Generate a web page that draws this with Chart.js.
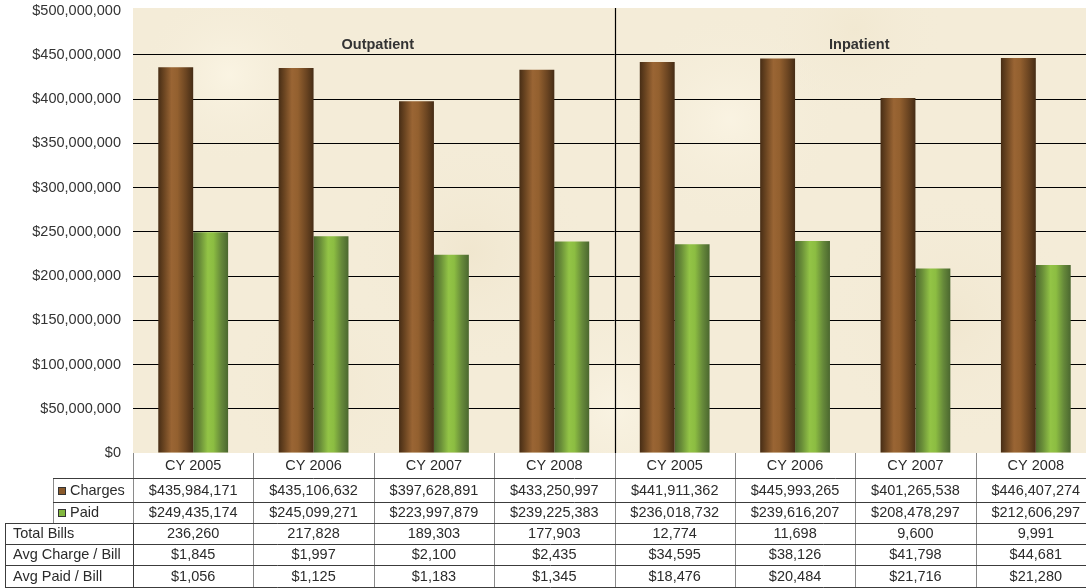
<!DOCTYPE html>
<html>
<head>
<meta charset="utf-8">
<script src="https://cdn.jsdelivr.net/npm/chart.js@4.4.1/dist/chart.umd.min.js"></script>
<style>
  html, body { margin: 0; padding: 0; background: #ffffff; overflow: hidden; }
  #wrap { position: relative; width: 1100px; height: 588px; }
</style>
</head>
<body>
<div id="wrap"><canvas id="c"></canvas></div>
<script>
// ---- data ----
const categories = ['CY 2005', 'CY 2006', 'CY 2007', 'CY 2008', 'CY 2005', 'CY 2006', 'CY 2007', 'CY 2008'];
const groupNames = ['Outpatient', 'Inpatient'];
const groupSizes = [4, 4];
const seriesNames = ['Charges', 'Paid'];
const charges = [435984171, 435106632, 397628891, 433250997, 441911362, 445993265, 401265538, 446407274];
const paid = [249435174, 245099271, 223997879, 239225383, 236018732, 239616207, 208478297, 212606297];
const totalBills = [236260, 217828, 189303, 177903, 12774, 11698, 9600, 9991];
const avgChargePerBill = [1845, 1997, 2100, 2435, 34595, 38126, 41798, 44681];
const avgPaidPerBill = [1056, 1125, 1183, 1345, 18476, 20484, 21716, 21280];
const extraRowLabels = ['Total Bills', 'Avg Charge / Bill', 'Avg Paid / Bill'];
const yMin = 0, yMax = 500000000, yStep = 50000000;

// ---- styling ----
const FONT = "'Liberation Sans', Arial, Helvetica, sans-serif";
const FS = 14.5;
const TEXT = '#2b2b2b';
const brownStops = [[0, '#472d15'], [0.18, '#6e4722'], [0.38, '#9a6534'], [0.55, '#93602f'], [0.8, '#6a4421'], [1, '#452c15']];
const greenStops = [[0, '#4b672d'], [0.2, '#6a8f39'], [0.42, '#93c446'], [0.58, '#8cbd42'], [0.8, '#66893a'], [1, '#4b672f']];
const legendColors = ['#8a5a2b', '#82b83f'];

const money = v => '$' + Math.round(v).toLocaleString('en-US');
const num = v => Math.round(v).toLocaleString('en-US');

const bgPlugin = {
  id: 'bg',
  beforeDraw(chart) {
    const { ctx, chartArea: a } = chart;
    ctx.save();
    ctx.fillStyle = '#f4ecd8';
    ctx.fillRect(a.left, 8, a.right - a.left, a.bottom - 8);
    const spots = [[0.1, 0.15, 90, 'rgba(255,250,235,0.55)'], [0.35, 0.55, 120, 'rgba(236,224,196,0.45)'],
                   [0.62, 0.25, 110, 'rgba(255,250,236,0.5)'], [0.85, 0.7, 130, 'rgba(237,225,198,0.45)'],
                   [0.2, 0.85, 100, 'rgba(240,229,203,0.45)'], [0.75, 0.05, 90, 'rgba(238,227,200,0.4)'],
                   [0.5, 0.9, 110, 'rgba(255,251,238,0.45)']];
    ctx.beginPath(); ctx.rect(a.left, 8, a.right - a.left, a.bottom - 8); ctx.clip();
    spots.forEach(([fx, fy, r, c]) => {
      const x = a.left + fx * (a.right - a.left), y = 8 + fy * (a.bottom - 8);
      const g = ctx.createRadialGradient(x, y, 0, x, y, r);
      g.addColorStop(0, c); g.addColorStop(1, 'rgba(244,236,216,0)');
      ctx.fillStyle = g; ctx.fillRect(x - r, y - r, 2 * r, 2 * r);
    });
    ctx.restore();
  },
  beforeDatasetsDraw(chart) {
    const ctx = chart.ctx;
    chart.data.datasets.forEach((ds, di) => {
      const stops = di === 0 ? brownStops : greenStops;
      chart.getDatasetMeta(di).data.forEach(el => {
        const p = el.getProps(['x', 'width'], true);
        const l = p.x - p.width / 2, r = p.x + p.width / 2;
        const g = ctx.createLinearGradient(l, 0, r, 0);
        stops.forEach(s => g.addColorStop(s[0], s[1]));
        el.options = Object.assign({}, el.options, { backgroundColor: g });
      });
    });
  },
  afterDraw(chart) {
    const { ctx, chartArea: a, scales } = chart;
    const xs = scales.x;
    const n = categories.length;
    const colW = (a.right - a.left) / n;
    const top = a.bottom;
    const rowY = [0, 25, 49, 70, 90.5, 112, 134].map(o => top + o);
    const px = v => Math.round(v) + 0.5;
    ctx.save();

    let start = 0;
    ctx.font = 'bold ' + FS + 'px ' + FONT;
    ctx.fillStyle = '#333';
    ctx.textAlign = 'center';
    ctx.textBaseline = 'middle';
    groupSizes.forEach((sz, gi) => {
      const x0 = xs.getPixelForValue(start), x1 = xs.getPixelForValue(start + sz - 1);
      ctx.fillText(groupNames[gi], (x0 + x1) / 2 + 4, 45);
      if (gi > 0) {
        const xd = (xs.getPixelForValue(start - 1) + x0) / 2;
        ctx.strokeStyle = '#000'; ctx.lineWidth = 1.2;
        ctx.beginPath(); ctx.moveTo(px(xd), 8); ctx.lineTo(px(xd), a.bottom); ctx.stroke();
      }
      start += sz;
    });

    ctx.lineWidth = 1;
    ctx.strokeStyle = '#8a8a8a';
    for (let i = 0; i <= n; i++) {
      const x = a.left + i * colW;
      ctx.beginPath(); ctx.moveTo(px(x), rowY[0]); ctx.lineTo(px(x), rowY[6]); ctx.stroke();
    }
    ctx.beginPath(); ctx.moveTo(px(53), rowY[1]); ctx.lineTo(px(53), rowY[3]); ctx.stroke();
    ctx.strokeStyle = '#3c3c3c';
    const hl = (y, x0) => { ctx.beginPath(); ctx.moveTo(x0, px(y)); ctx.lineTo(a.right, px(y)); ctx.stroke(); };
    hl(rowY[1], 53); hl(rowY[2], 53);
    hl(rowY[3], 5); hl(rowY[4], 5); hl(rowY[5], 5); hl(rowY[6], 5);
    ctx.beginPath(); ctx.moveTo(px(5), rowY[3]); ctx.lineTo(px(5), rowY[6]); ctx.stroke();
    ctx.beginPath(); ctx.moveTo(px(a.left), rowY[3]); ctx.lineTo(px(a.left), rowY[6]); ctx.stroke();

    ctx.font = FS + 'px ' + FONT;
    ctx.fillStyle = TEXT;
    ctx.textBaseline = 'middle';
    ctx.textAlign = 'center';
    const rows = [
      categories,
      charges.map(money),
      paid.map(money),
      totalBills.map(num),
      avgChargePerBill.map(money),
      avgPaidPerBill.map(money)
    ];
    rows.forEach((vals, r) => {
      const yc = (rowY[r] + rowY[r + 1]) / 2 + 0.5;
      vals.forEach((t, i) => ctx.fillText(t, xs.getPixelForValue(i), yc));
    });
    ctx.textAlign = 'left';
    seriesNames.forEach((s, k) => {
      const yc = (rowY[1 + k] + rowY[2 + k]) / 2 + 0.5;
      ctx.fillStyle = legendColors[k];
      ctx.fillRect(58, Math.round(yc) - 4, 8, 8);
      ctx.strokeStyle = '#333';
      ctx.strokeRect(58.5, Math.round(yc) - 3.5, 7, 7);
      ctx.fillStyle = TEXT;
      ctx.fillText(s, 70, yc);
    });
    extraRowLabels.forEach((s, k) => {
      const yc = (rowY[3 + k] + rowY[4 + k]) / 2 + 0.5;
      ctx.fillText(s, 13, yc);
    });
    ctx.restore();
  }
};

new Chart(document.getElementById('c'), {
  type: 'bar',
  data: {
    labels: categories,
    datasets: [
      { label: seriesNames[0], data: charges, backgroundColor: '#8a5a2b', borderWidth: 0,
        categoryPercentage: 0.58, barPercentage: 1.0 },
      { label: seriesNames[1], data: paid, backgroundColor: '#82b83f', borderWidth: 0,
        categoryPercentage: 0.58, barPercentage: 1.0 }
    ]
  },
  options: {
    responsive: true,
    maintainAspectRatio: false,
    animation: false,
    events: [],
    layout: { padding: { top: 10.7, right: 4, bottom: 135, left: 0 } },
    plugins: { legend: { display: false }, tooltip: { enabled: false }, title: { display: false } },
    scales: {
      x: { display: false, grid: { display: false } },
      y: {
        min: yMin, max: yMax,
        afterFit(scale) { scale.width = 133; scale.paddingTop = 0; scale.paddingBottom = 0; },
        border: { display: false },
        grid: {
          drawTicks: false,
          color: c => (c.tick && (c.tick.value === yMin || c.tick.value === yMax)) ? 'rgba(0,0,0,0)' : '#000',
          lineWidth: 1
        },
        ticks: {
          stepSize: yStep,
          padding: 12,
          color: '#333',
          font: { family: FONT, size: FS },
          callback: v => money(v)
        }
      }
    }
  },
  plugins: [bgPlugin]
});
</script>
</body>
</html>
